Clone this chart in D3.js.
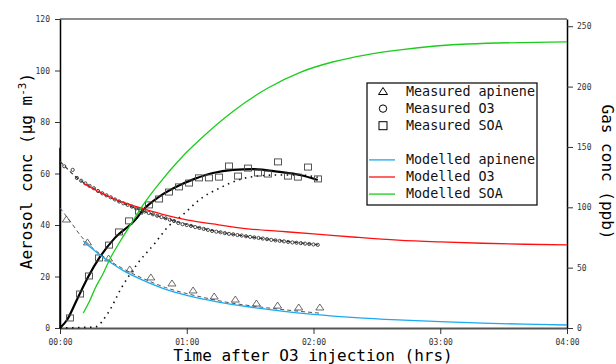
<!DOCTYPE html>
<html>
<head>
<meta charset="utf-8">
<script src="https://cdn.jsdelivr.net/npm/d3@7"></script>
<style>
  body { margin: 0; background: #fff; }
  text { font-family: "DejaVu Sans Mono", monospace; }
</style>
</head>
<body>
<svg id="chart" width="616" height="364"></svg>
<script>
// time in minutes after O3 injection
const timeTicks = [0, 60, 120, 180, 240];
const aerosolTicks = [0, 20, 40, 60, 80, 100, 120];
const gasTicks = [0, 50, 100, 150, 200, 250];

// measured apinene (ppb, right axis)
const apineneTimes = [3, 13, 23, 33, 43, 53, 63, 73, 83, 93, 103, 113, 123];
const apineneMeasured = [90.3, 71.3, 58.0, 48.9, 42.3, 37.3, 31.5, 26.5, 24.0, 20.7, 19.0, 17.4, 17.4];

// measured O3 (ppb, right axis)
const o3Times = [2, 6, 8, 10, 12, 14, 16, 18, 20, 22, 24, 26, 28, 30, 32, 34, 36, 38, 40, 42, 44, 46, 48, 50,
  52, 54, 56, 58, 60, 62, 64, 66, 68, 70, 72, 74, 76, 78, 80, 82, 84, 86, 88, 90, 92, 94, 96, 98, 100,
  102, 104, 106, 108, 110, 112, 114, 116, 118, 120, 122];
const o3Measured = [134, 131, 124.3, 122, 119.8, 117.7, 115.8, 113.5, 111.6, 109.9, 108.3, 106.5, 104.8, 103.3,
  102.0, 100.6, 99.1, 97.6, 96.5, 95.3, 94.2, 93.0, 91.9, 90.9, 89.7, 88.6, 87.0, 86.0, 85.3, 84.6, 83.6,
  82.9, 82.1, 81.3, 80.4, 79.8, 79.3, 78.6, 78.0, 77.6, 77.0, 76.6, 76.0, 75.5, 75.0, 74.6, 74.1, 73.6,
  73.0, 72.6, 72.2, 71.8, 71.3, 70.9, 70.6, 70.3, 69.9, 69.6, 69.2, 68.9];

// measured SOA (ug m-3, left axis)
const soaTimes = [4.7, 9.5, 13.7, 18.5, 23.2, 27.9, 32.7, 37.4, 42.1, 46.9, 51.6, 56.3, 61.1, 65.8, 70.5,
  75.3, 80, 84.3, 89, 93.7, 98.4, 103.2, 107.9, 112.6, 117.4, 122.1];
const soaMeasured = [3.9, 13.2, 20.2, 27.2, 32.2, 37.3, 41.6, 45.4, 47.8, 50.1, 52.8, 54.8, 56.3, 58.3, 58.3,
  58.6, 62.9, 59.0, 62.1, 60.2, 59.8, 64.5, 59.0, 58.6, 62.5, 57.9];

// modelled series
const modelTimes = [11, 15, 20, 25, 30, 40, 50, 60, 75, 90, 105, 120, 140, 160, 180, 200, 220, 240];
const apineneModel = [72, 66, 59, 53, 47.5, 39, 32, 27, 21.5, 17.4, 14, 11.3, 8.6, 6.7, 5.2, 4.0, 3.2, 2.5];
const o3Model = [120, 116, 111.5, 107.5, 104, 98.5, 93.5, 89.5, 85.5, 82, 80, 78, 75.2, 72.8, 71.3, 70.2, 69.4, 68.8];
const soaModelTimes = [11, 14, 17, 20, 24, 28, 32, 36, 40, 47, 58, 66, 82, 98, 114, 129, 145, 161, 193, 240];
const soaModel = [5.8, 10.5, 16, 20.5, 27.4, 33, 38.3, 43.6, 48.6, 56.2, 66.6, 73, 84.2, 93, 99.4, 103.3, 106.1, 108, 110.3, 111.1];

// fitted curves through the measurements
const apineneFitTimes = [0, 5, 10, 15, 20, 25, 30, 40, 50, 60, 70, 80, 90, 100, 110, 123];
const apineneFit = [99.4, 88, 76, 67, 60, 54, 49, 40.5, 33.5, 28.5, 24.5, 21, 18.5, 16.3, 14.4, 12.3];
const o3FitTimes = [0, 4, 8, 12, 16, 20, 30, 40, 50, 60, 70, 80, 90, 100, 110, 122];
const o3Fit = [138, 131, 124.5, 119.5, 115.5, 111.5, 103.3, 96.5, 90.8, 85.8, 81.5, 78.2, 75.5, 73.2, 71.2, 69];
const soaFitTimes = [0, 3.3, 8, 13.3, 18.9, 26, 35.5, 39.3, 47, 56.8, 64, 72.4, 81.9, 91.4, 104, 113.6, 122];
const soaFit = [0, 3.1, 11, 19.8, 27.6, 35, 41.9, 45.8, 51, 55.5, 58, 60.2, 61.4, 61.7, 60.6, 59.4, 57.5];
const soaLagTimes = [0, 9.5, 16.6, 22.7, 29.3, 36.9, 45, 51, 58.2, 66.3, 75.7, 85.2, 93.3, 102.7, 113.6, 122];
const soaLag = [0, 0.2, 0.4, 5.8, 15.9, 25.2, 33, 39.2, 44, 50, 54.4, 57.7, 59, 59.4, 59.4, 58.5];
const injectionLevel = [0, 70];

const BLUE = '#1aa9f2', RED = '#ff1010', GREEN = '#1ccc1c';

const svg = d3.select('#chart');
const plotLeft = 60, plotRight = 567, plotTop = 19, plotBottom = 328;

const x = d3.scaleLinear().domain([0, 240]).range([plotLeft, plotRight]);
const yAer = d3.scaleLinear().domain([0, 120]).range([plotBottom, plotTop]);
const yGas = d3.scaleLinear().domain([0, 256]).range([plotBottom, plotTop]);

const pad = d3.format('02');
const hhmm = d => pad(Math.floor(d / 60)) + ':' + pad(d % 60);

// top frame line
svg.append('line')
  .attr('x1', plotLeft).attr('x2', plotRight).attr('y1', plotTop).attr('y2', plotTop)
  .style('stroke', '#666').style('stroke-width', 1.5);

// axes
const xAxis = svg.append('g').attr('transform', `translate(0,${plotBottom})`)
  .call(d3.axisBottom(x).tickValues(timeTicks).tickFormat(hhmm).tickSize(6).tickSizeOuter(0).tickPadding(5));
xAxis.select('.domain').style('stroke', '#555').style('stroke-width', 2);

const yAxisL = svg.append('g').attr('transform', `translate(${plotLeft},0)`)
  .call(d3.axisLeft(yAer).tickValues(aerosolTicks).tickSize(5).tickSizeOuter(0).tickPadding(5));
yAxisL.select('.domain').style('stroke', '#000').style('stroke-width', 1.5);

const yAxisR = svg.append('g').attr('transform', `translate(${plotRight},0)`)
  .call(d3.axisRight(yGas).tickValues(gasTicks).tickSize(6).tickSizeOuter(0).tickPadding(4));
yAxisR.select('.domain').style('stroke', '#000').style('stroke-width', 1.5);

svg.selectAll('.tick text')
  .style('font-family', '"DejaVu Sans Mono", monospace')
  .style('font-size', '8px')
  .style('fill', '#333');
svg.selectAll('.tick line').style('stroke', '#333');

// axis titles
svg.append('text')
  .attr('transform', `translate(32,171) rotate(-90)`)
  .attr('text-anchor', 'middle')
  .style('font-size', '16px')
  .call(t => {
    t.append('tspan').text('Aerosol conc (µg m');
    t.append('tspan').attr('dy', -6).style('font-size', '11px').text('-3');
    t.append('tspan').attr('dy', 6).text(')');
  });

svg.append('text')
  .attr('x', 313).attr('y', 361)
  .attr('text-anchor', 'middle')
  .style('font-size', '16px')
  .text('Time after O3 injection (hrs)');

svg.append('text')
  .attr('transform', `translate(602,172) rotate(90)`)
  .attr('text-anchor', 'middle')
  .style('font-size', '16px')
  .text('Gas conc (ppb)');

const zipped = (ts, vs) => ts.map((t, i) => [t, vs[i]]);
const lineAer = d3.line().x(d => x(d[0])).y(d => yAer(d[1])).curve(d3.curveMonotoneX);
const lineGas = d3.line().x(d => x(d[0])).y(d => yGas(d[1])).curve(d3.curveMonotoneX);

const plot = svg.append('g').attr('class', 'plot');

// injection step at t = 0
plot.append('line')
  .attr('x1', x(0)).attr('x2', x(0))
  .attr('y1', yAer(injectionLevel[0])).attr('y2', yAer(injectionLevel[1]))
  .style('stroke', '#000').style('stroke-width', 1.5);

// fitted curves
plot.append('path')
  .attr('d', lineGas(zipped(apineneFitTimes, apineneFit)))
  .style('fill', 'none').style('stroke', '#555').style('stroke-width', 1)
  .style('stroke-dasharray', '4,3');
plot.append('path')
  .attr('d', lineGas(zipped(o3FitTimes, o3Fit)))
  .style('fill', 'none').style('stroke', '#333').style('stroke-width', 1.2)
  .style('stroke-dasharray', '4,3');
plot.append('path')
  .attr('d', lineAer(zipped(soaLagTimes, soaLag)))
  .style('fill', 'none').style('stroke', '#111').style('stroke-width', 1.6)
  .style('stroke-dasharray', '1.5,4.5');
plot.append('path')
  .attr('d', lineAer(zipped(soaFitTimes, soaFit)))
  .style('fill', 'none').style('stroke', '#000').style('stroke-width', 2.2);

// measured markers
const tri = (w, h) => `M0,${-h / 2}L${w / 2},${h / 2}L${-w / 2},${h / 2}Z`;

plot.append('g').selectAll('path')
  .data(zipped(apineneTimes, apineneMeasured))
  .enter().append('path')
  .attr('transform', d => `translate(${x(d[0])},${yGas(d[1])})`)
  .attr('d', tri(8, 6))
  .style('fill', 'none').style('stroke', '#444').style('stroke-width', 0.8);

plot.append('g').selectAll('circle')
  .data(zipped(o3Times, o3Measured))
  .enter().append('circle')
  .attr('cx', d => x(d[0]))
  .attr('cy', d => yGas(d[1]))
  .attr('r', 1.6)
  .style('fill', 'none').style('stroke', '#333').style('stroke-width', 0.9);

plot.append('g').selectAll('rect')
  .data(zipped(soaTimes, soaMeasured))
  .enter().append('rect')
  .attr('x', d => x(d[0]) - 3.5)
  .attr('y', d => yAer(d[1]) - 3)
  .attr('width', 7).attr('height', 6)
  .style('fill', 'none').style('stroke', '#444').style('stroke-width', 0.9);

// modelled lines
plot.append('path')
  .attr('d', lineGas(zipped(modelTimes, apineneModel)))
  .style('fill', 'none').style('stroke', BLUE).style('stroke-width', 1.3);
plot.append('path')
  .attr('d', lineGas(zipped(modelTimes, o3Model)))
  .style('fill', 'none').style('stroke', RED).style('stroke-width', 1.3);
plot.append('path')
  .attr('d', lineAer(zipped(soaModelTimes, soaModel)))
  .style('fill', 'none').style('stroke', GREEN).style('stroke-width', 1.3);

// legend
const legendItems = [
  {row: 0, label: 'Measured apinene', kind: 'tri'},
  {row: 1, label: 'Measured O3', kind: 'circle'},
  {row: 2, label: 'Measured SOA', kind: 'square'},
  {row: 4, label: 'Modelled apinene', kind: 'line', color: BLUE},
  {row: 5, label: 'Modelled O3', kind: 'line', color: RED},
  {row: 6, label: 'Modelled SOA', kind: 'line', color: GREEN}
];
const legend = svg.append('g').attr('class', 'legend');
legend.append('rect')
  .attr('x', 367).attr('y', 83).attr('width', 170).attr('height', 122)
  .style('fill', '#fff').style('stroke', '#000').style('stroke-width', 1.2);

const rows = legend.selectAll('g.item')
  .data(legendItems)
  .enter().append('g').attr('class', 'item')
  .attr('transform', d => `translate(0,${91 + d.row * 17.1})`);

rows.append('text')
  .attr('x', 406).attr('dy', '0.35em')
  .style('font-size', '13.4px')
  .style('fill', '#111')
  .text(d => d.label);

rows.each(function(d) {
  const g = d3.select(this);
  if (d.kind === 'tri') {
    g.append('path').attr('transform', 'translate(383,0)').attr('d', tri(9, 7))
      .style('fill', 'none').style('stroke', '#000').style('stroke-width', 1);
  } else if (d.kind === 'circle') {
    g.append('circle').attr('cx', 383).attr('cy', 0.5).attr('r', 3.7)
      .style('fill', 'none').style('stroke', '#000').style('stroke-width', 1);
  } else if (d.kind === 'square') {
    g.append('rect').attr('x', 379).attr('y', -3.5).attr('width', 8).attr('height', 8)
      .style('fill', 'none').style('stroke', '#000').style('stroke-width', 1);
  } else {
    g.append('line').attr('x1', 369).attr('x2', 395).attr('y1', 0.5).attr('y2', 0.5)
      .style('stroke', d.color).style('stroke-width', 1.3);
  }
});
</script>
</body>
</html>
